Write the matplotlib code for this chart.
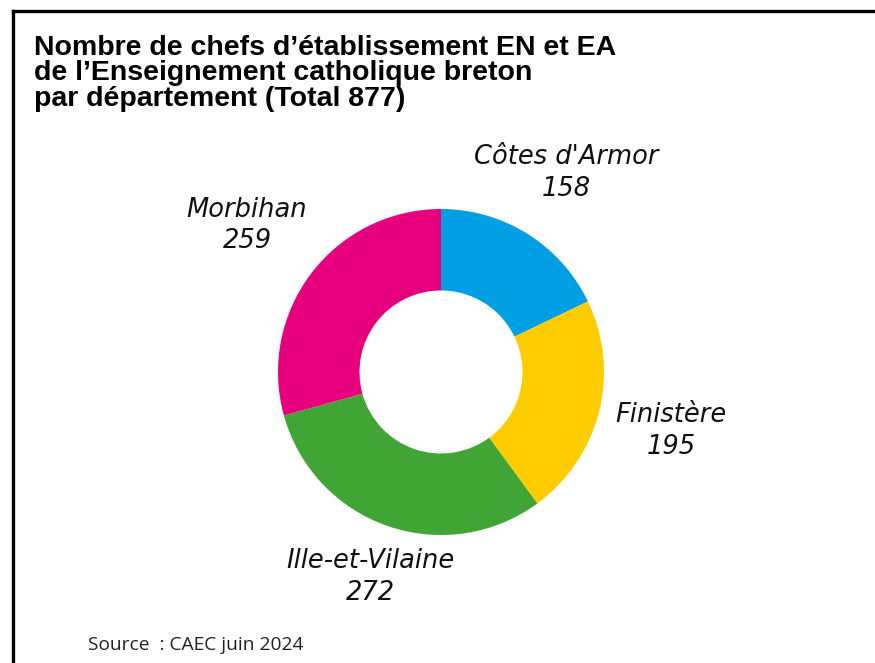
import matplotlib
matplotlib.use("Agg")
import matplotlib.pyplot as plt
from matplotlib.lines import Line2D

# data
departements = ["Côtes d'Armor", "Finistère", "Ille-et-Vilaine", "Morbihan"]
effectifs = [158, 195, 272, 259]
couleurs = ["#009FE3", "#FFCC00", "#41A535", "#E6007E"]
titre = [
    "Nombre de chefs d\u2019établissement EN et EA",
    "de l\u2019Enseignement catholique breton",
    "par département (Total 877)",
]
source = "Source  : CAEC juin 2024"

W, H = 875, 663
fig = plt.figure(figsize=(W / 100, H / 100), dpi=100)
fig.patch.set_facecolor("white")


def fx(px):
    return px / W


def fy(py):
    return 1 - py / H


# border (left + top only, the rest is cropped)
fig.add_artist(Line2D([fx(13), fx(13)], [fy(11), 0], transform=fig.transFigure,
                      color="black", linewidth=2.4, solid_capstyle="projecting"))
fig.add_artist(Line2D([fx(13), 1], [fy(11), fy(11)], transform=fig.transFigure,
                      color="black", linewidth=2.4, solid_capstyle="projecting"))

# title
for i, ligne in enumerate(titre):
    fig.text(fx(34), fy(55 + 25.5 * i), ligne, ha="left", va="baseline",
             fontsize=20.5, fontweight="bold", family="Liberation Sans", color="black")

# donut
cx, cy, r = 441, 372, 163
ax = fig.add_axes([fx(cx - r), fy(cy + r), (2 * r) / W, (2 * r) / H])
ax.pie(effectifs, colors=couleurs, startangle=90, counterclock=False,
       radius=1.0, wedgeprops=dict(width=0.5, edgecolor="none"))
ax.set_xlim(-1, 1)
ax.set_ylim(-1, 1)
ax.set_aspect("equal")
ax.axis("off")

# labels (name line, value line)
positions = [(566, 157), (671, 415), (370, 561), (247, 210)]
for nom, val, (px, py) in zip(departements, effectifs, positions):
    for j, txt in enumerate([nom, str(val)]):
        fig.text(fx(px), fy(py + 31.5 * j), txt, ha="center", va="center",
                 fontsize=18.5, style="italic", family="DejaVu Sans",
                 color="#111111")

fig.text(fx(88), fy(645), source, ha="left", va="center", fontsize=13.8,
         family="Open Sans", color="#222222")

fig.savefig("out.png", dpi=100)
